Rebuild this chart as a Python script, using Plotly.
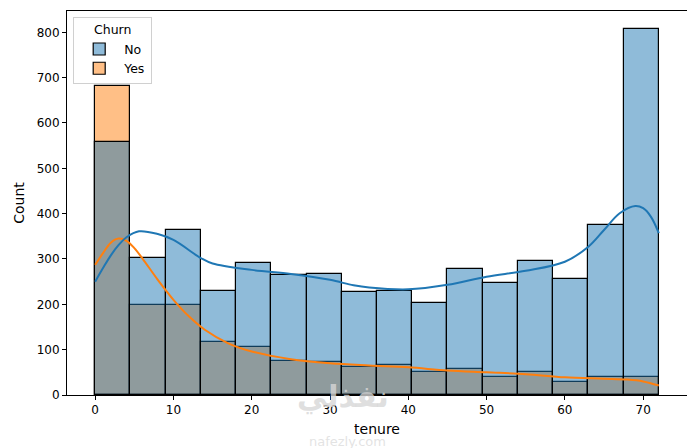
import numpy as np
import plotly.graph_objects as go

# histogram counts per tenure bin (16 bins over 0..72)
bin_edges = np.linspace(0, 72, 17)
count_no = [559, 302, 363, 229, 291, 264, 266, 227, 229, 203, 278, 247, 295, 255, 376, 807]
count_yes = [682, 198, 198, 117, 105, 76, 73, 62, 66, 51, 57, 40, 51, 29, 40, 40]

# kde curves (count scale)
kde_no_x = [0, 1, 2, 3, 4, 5.6, 8, 10, 13.5, 15, 20, 25, 30, 33, 35, 40, 45, 50, 55, 60, 63, 65, 67, 69, 70, 71, 72]
kde_no_y = [250, 280, 308, 331, 348, 361, 355, 342, 302, 290, 276, 267, 254, 242, 237, 233, 243, 261, 274, 294, 327, 364, 401, 417, 412, 393, 357]
kde_yes_x = [0, 1, 2, 3, 4, 5, 6, 8, 10, 12, 14, 17, 20, 25, 30, 35, 40, 45, 50, 55, 60, 65, 68, 70, 72]
kde_yes_y = [287, 313, 336, 345, 340, 324, 302, 254, 210, 173, 144, 114, 96, 79, 70, 65, 61, 54, 50, 46, 39, 36, 34, 30, 21]

centers = (bin_edges[:-1] + bin_edges[1:]) / 2
width = bin_edges[1] - bin_edges[0]

fig = go.Figure()
# Yes first so the No bars sit on top (grey overlap)
fig.add_trace(go.Bar(
    x=centers, y=count_yes, width=width, name='Yes', legendrank=2,
    marker=dict(color='rgba(255,127,14,0.5)', line=dict(color='black', width=1.2)),
))
fig.add_trace(go.Bar(
    x=centers, y=count_no, width=width, name='No', legendrank=1,
    marker=dict(color='rgba(31,119,180,0.5)', line=dict(color='black', width=1.2)),
))
fig.add_trace(go.Scatter(
    x=kde_yes_x, y=kde_yes_y, mode='lines', line=dict(color='#ff7f0e', width=2, shape='spline'),
    showlegend=False, hoverinfo='skip',
))
fig.add_trace(go.Scatter(
    x=kde_no_x, y=kde_no_y, mode='lines', line=dict(color='#1f77b4', width=2, shape='spline'),
    showlegend=False, hoverinfo='skip',
))

# faint watermark
fig.add_annotation(x=0.445, y=-0.058, xref='paper', yref='paper', text='<b>نفذلي</b>', showarrow=False,
                   font=dict(size=30, color='rgba(215,215,215,0.8)', family='DejaVu Sans'))
fig.add_annotation(x=0.452, y=-0.122, xref='paper', yref='paper', text='nafezly.com', showarrow=False,
                   yanchor='middle', font=dict(size=13, color='rgba(220,220,220,0.8)', family='DejaVu Sans'))

# the page body has an 8px margin, so the figure is sized/offset to fit 695x448
fig.update_layout(
    width=687, height=440,
    barmode='overlay', bargap=0,
    paper_bgcolor='white', plot_bgcolor='white',
    margin=dict(l=59, r=8, t=3, b=53, autoexpand=False),
    font=dict(family='DejaVu Sans', size=12, color='black'),
    legend=dict(
        title=dict(text='Churn', side='top center', font=dict(size=12.5)),
        x=0.01, y=0.984, xanchor='left', yanchor='top',
        bgcolor='rgba(255,255,255,0.8)', bordercolor='#d0d0d0', borderwidth=1,
        font=dict(size=12.5), traceorder='normal', itemwidth=40,
    ),
    xaxis=dict(
        range=[-3.6, 75.6], tickvals=[0, 10, 20, 30, 40, 50, 60, 70],
        showgrid=False, zeroline=False, showline=True, linecolor='black', mirror=True,
        ticks='outside', ticklen=4, tickcolor='black',
        title=dict(text='tenure', standoff=7),
    ),
    yaxis=dict(
        range=[0, 847], tickvals=[0, 100, 200, 300, 400, 500, 600, 700, 800],
        showgrid=False, zeroline=False, showline=True, linecolor='black', mirror=True,
        ticks='outside', ticklen=4, tickcolor='black',
        title=dict(text='Count', standoff=8),
    ),
)

fig.write_html("out.html")
